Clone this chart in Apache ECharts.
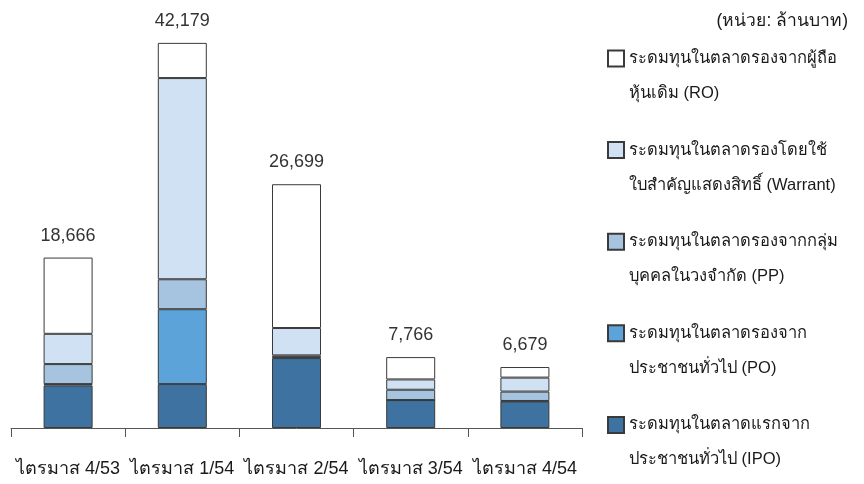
<!DOCTYPE html>
<html>
<head>
<meta charset="utf-8">
<script src="https://cdn.jsdelivr.net/npm/echarts@6/dist/echarts.min.js"></script>
<style>
	html, body { margin: 0; padding: 0; background: #fff; }
	#chart { width: 864px; height: 484px; }
</style>
</head>
<body>
<div id="chart"></div>
<script>
// ไตรมาส (quarters)
var categories = ['ไตรมาส 4/53', 'ไตรมาส 1/54', 'ไตรมาส 2/54', 'ไตรมาส 3/54', 'ไตรมาส 4/54'];
// ล้านบาท (bottom -> top)
var ipo     = [4660, 4810, 7655, 3060, 2910];
var po      = [150, 8200, 100, 0, 50];
var pp      = [2190, 3280, 200, 1130, 1030];
var warrant = [3315, 22035, 2995, 1130, 1530];
var ro      = [8351, 3854, 15749, 2446, 1159];
var totals  = [18666, 42179, 26699, 7766, 6679];

var names = {
	ro: 'ระดมทุนในตลาดรองจากผู้ถือ\nหุ้นเดิม (RO)',
	warrant: 'ระดมทุนในตลาดรองโดยใช้\nใบสำคัญแสดงสิทธิ์ (Warrant)',
	pp: 'ระดมทุนในตลาดรองจากกลุ่ม\nบุคคลในวงจำกัด (PP)',
	po: 'ระดมทุนในตลาดรองจาก\nประชาชนทั่วไป (PO)',
	ipo: 'ระดมทุนในตลาดแรกจาก\nประชาชนทั่วไป (IPO)'
};
var legendOrder = [names.ro, names.warrant, names.pp, names.po, names.ipo];

var chart = echarts.init(document.getElementById('chart'));

function bar(name, data, color) {
	return {
		name: name,
		type: 'bar',
		stack: 'total',
		barWidth: 49,
		data: data,
		itemStyle: { color: color, borderColor: '#3a3a3a', borderWidth: 1 }
	};
}

var topSeries = bar(names.ro, ro, '#ffffff');
topSeries.label = {
	show: true,
	position: 'top',
	distance: 13,
	fontFamily: 'Liberation Sans, Arial, sans-serif',
	fontSize: 18,
	color: '#333',
	formatter: function (p) { return totals[p.dataIndex].toLocaleString('en-US'); }
};

var option = {
	animation: false,
	title: {
		text: '(หน่วย: ล้านบาท)',
		right: 11,
		top: 7,
		textStyle: { fontSize: 17.5, fontWeight: 'normal', color: '#1a1a1a' }
	},
	// one legend block per entry; an empty first line keeps the box level with the first text line
	legend: legendOrder.map(function (n, i) {
		return {
			data: [n],
			left: 607,
			top: 6 + i * 91.6,
			padding: 0,
			icon: 'rect',
			itemWidth: 16,
			itemHeight: 16,
			selectedMode: false,
			formatter: function (name) { return '\n' + name; },
			textStyle: { fontSize: 16.5, color: '#1a1a1a', lineHeight: 35 }
		};
	}),
	grid: { left: 11, right: 282, top: 8, bottom: 56 },
	xAxis: {
		type: 'category',
		data: categories,
		axisLine: { lineStyle: { color: '#555' } },
		axisTick: { show: true, length: 9, lineStyle: { color: '#555' } },
		axisLabel: { margin: 32, fontSize: 18, color: '#1a1a1a', interval: 0 }
	},
	yAxis: {
		type: 'value',
		min: 0,
		max: 46000,
		show: false
	},
	series: [
		bar(names.ipo, ipo, '#3e73a1'),
		bar(names.po, po, '#5ba3d9'),
		bar(names.pp, pp, '#a6c3df'),
		bar(names.warrant, warrant, '#cfe1f2'),
		topSeries
	]
};

chart.setOption(option);
</script>
</body>
</html>
